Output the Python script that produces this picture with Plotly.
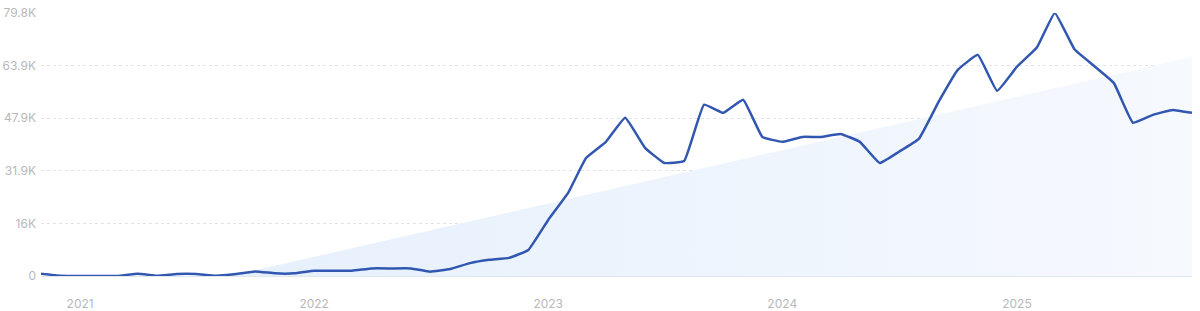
import plotly.graph_objects as go
import pandas as pd

# Monthly values (thousands) Nov 2020 .. Oct 2025
months = pd.date_range("2020-11-01", "2025-10-01", freq="MS").strftime("%Y-%m-%d").tolist()
values_k = [
    0.7, 0.1, 0.0, 0.0, 0.0, 0.7, 0.1, 0.6, 0.6, 0.1, 0.6, 1.4,
    0.8, 0.8, 1.6, 1.6, 1.6, 2.3, 2.3, 2.3, 1.3, 2.1, 3.9, 4.9,
    5.5, 7.9, 17.0, 25.2, 35.8, 40.7, 48.0, 38.9, 34.3, 34.9, 52.0, 49.5,
    53.5, 42.2, 40.7, 42.2, 42.2, 43.1, 40.7, 34.3, 37.7, 41.6, 52.9, 62.6,
    67.1, 56.2, 63.5, 69.3, 79.8, 68.7, 63.8, 58.6, 46.5, 48.9, 50.4, 49.5,
]
values = [v * 1000 for v in values_k]

# Trend area endpoints
trend_x = ["2021-08-23", "2025-10-01"]
trend_y = [0, 66500]

# Axis ticks
y_tickvals = [0, 15960, 31920, 47880, 63840, 79800]
y_ticktext = ["0", "16K", "31.9K", "47.9K", "63.9K", "79.8K"]
x_tickvals = ["2021-01-01", "2022-01-01", "2023-01-01", "2024-01-01", "2025-01-01"]
x_ticktext = ["2021", "2022", "2023", "2024", "2025"]

fig = go.Figure()
fig.add_trace(go.Scatter(
    x=trend_x, y=trend_y, mode="lines", line=dict(width=0),
    fill="tozeroy",
    fillgradient=dict(type="horizontal",
                      colorscale=[[0, "rgb(230,240,252)"], [1, "rgb(246,249,254)"]]),
    hoverinfo="skip", showlegend=False,
))
fig.add_trace(go.Scatter(
    x=months, y=values, mode="lines",
    line=dict(color="#3257b0", width=2.5, shape="spline", smoothing=0.3),
    showlegend=False, cliponaxis=False,
))

font_family = "Inter, Roboto, sans-serif"
fig.update_layout(
    width=1200, height=311,
    margin=dict(l=41, r=8, t=13, b=35),
    paper_bgcolor="white", plot_bgcolor="white",
    font=dict(family=font_family, size=12, color="#b8b8b8"),
    xaxis=dict(
        type="date", range=["2020-11-01", "2025-10-01"],
        tickvals=x_tickvals, ticktext=x_ticktext,
        showgrid=False, zeroline=False, automargin=False,
        showline=True, linecolor="#e2e7ef", linewidth=1,
        ticks="", ticklabelstandoff=17,
        tickfont=dict(size=12, color="#b8b8b8"),
    ),
    yaxis=dict(
        range=[0, 79800], automargin=False,
        tickvals=y_tickvals, ticktext=y_ticktext,
        showgrid=True, gridcolor="#e4e4e4", griddash="3px,3px", gridwidth=1,
        zeroline=False, showline=False,
        ticks="", ticklabelstandoff=4,
        tickfont=dict(size=12, color="#b8b8b8"),
    ),
)

fig.write_html("out.html")
